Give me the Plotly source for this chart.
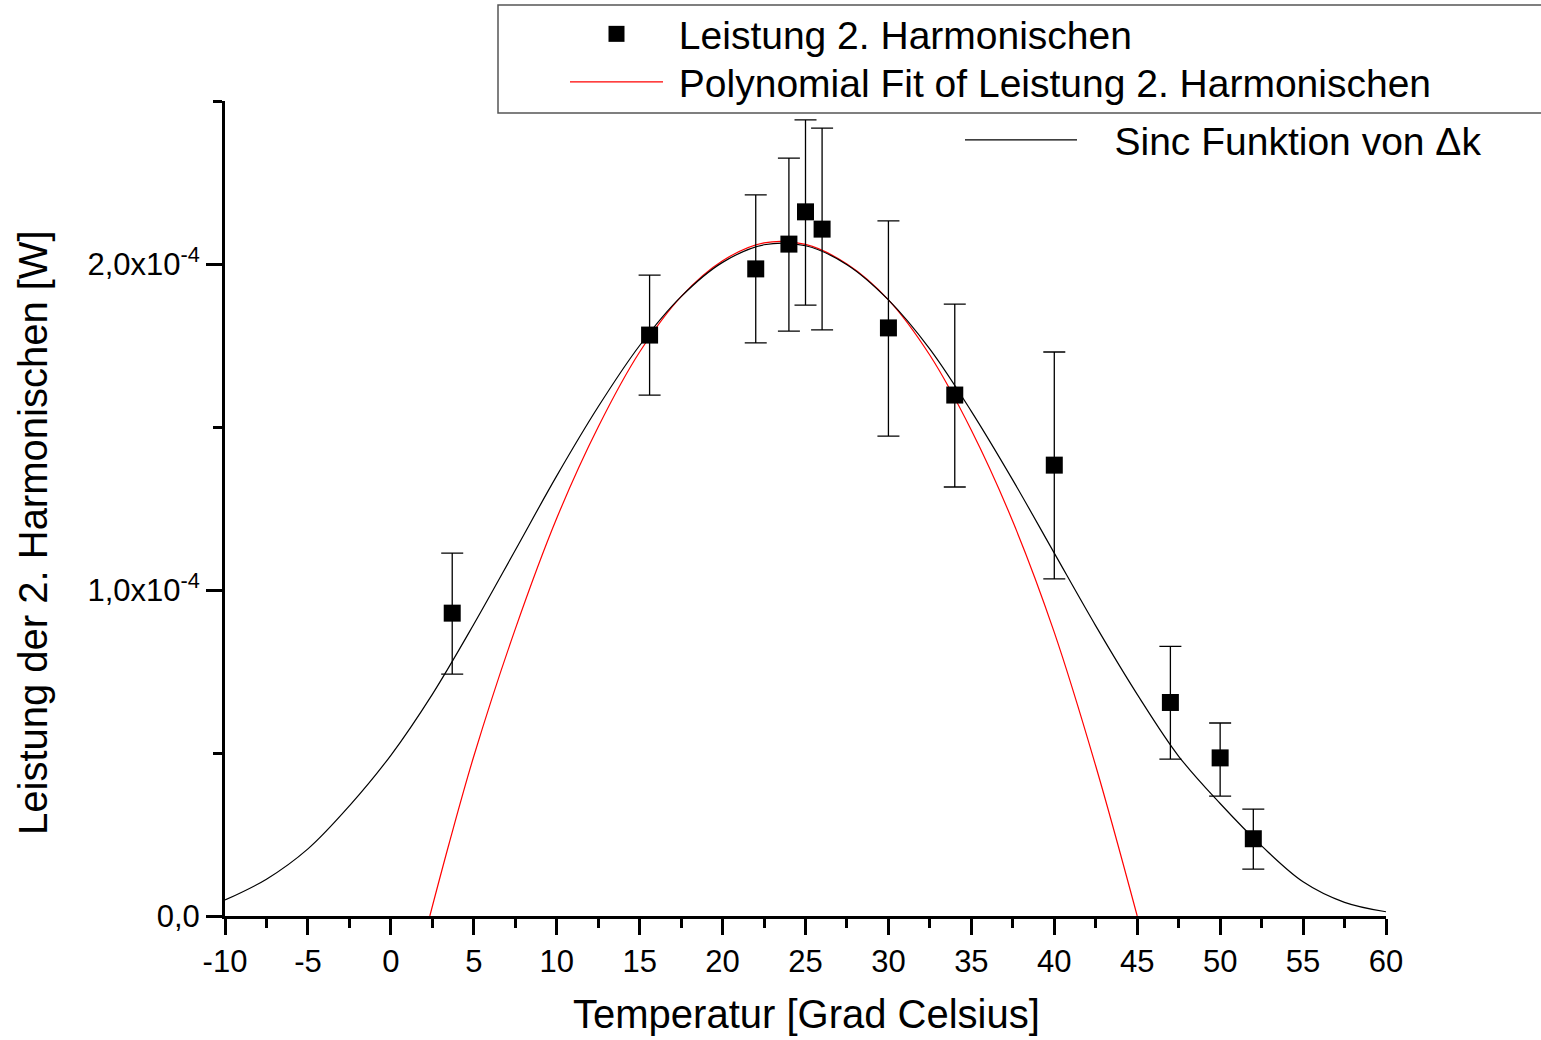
import plotly.graph_objects as go

# ---- data ----
temperature = [3.7, 15.6, 22, 24, 25, 26, 30, 34, 40, 47, 50, 52]
power = [0.929e-4, 1.782e-4, 1.985e-4, 2.061e-4, 2.160e-4, 2.107e-4,
         1.804e-4, 1.598e-4, 1.383e-4, 0.655e-4, 0.485e-4, 0.237e-4]
power_err_plus = [0.184e-4, 0.184e-4, 0.227e-4, 0.264e-4, 0.282e-4, 0.310e-4,
                  0.328e-4, 0.279e-4, 0.347e-4, 0.172e-4, 0.107e-4, 0.091e-4]
power_err_minus = [0.187e-4, 0.184e-4, 0.227e-4, 0.267e-4, 0.286e-4, 0.309e-4,
                   0.332e-4, 0.282e-4, 0.349e-4, 0.174e-4, 0.117e-4, 0.093e-4]

fit_temp = [2.35, 3.5, 5, 7.5, 10, 12.5, 15, 17.5, 20, 22.5, 25, 27.5, 30,
            32.5, 35, 37.5, 40, 42.5, 45]
fit_power = [0.0, 0.22e-4, 0.49e-4, 0.88e-4, 1.22e-4, 1.50e-4, 1.73e-4, 1.90e-4,
             2.01e-4, 2.065e-4, 2.06e-4, 2.00e-4, 1.89e-4, 1.72e-4, 1.49e-4,
             1.21e-4, 0.87e-4, 0.46e-4, 0.0]

sinc_temp = [-10, -7.5, -5, -2.5, 0, 2.5, 5, 7.5, 10, 12.5, 15, 17.5, 20, 22.5,
             25, 27.5, 30, 32.5, 35, 37.5, 40, 42.5, 45, 47.5, 50, 52.5, 55,
             57.5, 60]
sinc_power = [0.049e-4, 0.113e-4, 0.206e-4, 0.338e-4, 0.493e-4, 0.680e-4,
              0.895e-4, 1.122e-4, 1.350e-4, 1.562e-4, 1.750e-4, 1.900e-4,
              2.005e-4, 2.059e-4, 2.056e-4, 1.998e-4, 1.890e-4, 1.739e-4,
              1.548e-4, 1.337e-4, 1.113e-4, 0.890e-4, 0.680e-4, 0.490e-4,
              0.345e-4, 0.215e-4, 0.105e-4, 0.042e-4, 0.013e-4]

x_tickvals = [-10, -5, 0, 5, 10, 15, 20, 25, 30, 35, 40, 45, 50, 55, 60]
x_ticktext = ["-10", "-5", "0", "5", "10", "15", "20", "25", "30", "35",
              "40", "45", "50", "55", "60"]
y_tickvals = [0, 1e-4, 2e-4]
y_ticktext = ["0,0", "1,0x10<sup>-4</sup>", "2,0x10<sup>-4</sup>"]

FONT = "Liberation Sans, Arial, sans-serif"
LEG_FONT = dict(family=FONT, size=39, color="black")


def px_x(p):
    return (p - 225) / 1161


def px_y(p):
    return (916 - p) / 815


fig = go.Figure()

fig.add_trace(go.Scatter(
    x=fit_temp, y=fit_power, mode="lines",
    line=dict(color="#ff0000", width=1.2, shape="spline"),
    name="\u00a0Polynomial Fit of Leistung 2. Harmonischen",
    legend="legend3",
))
fig.add_trace(go.Scatter(
    x=sinc_temp, y=sinc_power, mode="lines",
    line=dict(color="black", width=1.2, shape="spline"),
    name="\u00a0\u00a0\u00a0Sinc Funktion von \u0394k",
    legend="legend2",
))
fig.add_trace(go.Scatter(
    x=temperature, y=power, mode="markers",
    marker=dict(symbol="square", size=17, color="black"),
    error_y=dict(type="data", symmetric=False, array=power_err_plus,
                 arrayminus=power_err_minus, color="black", thickness=1.3,
                 width=11),
    name="\u00a0Leistung 2. Harmonischen",
    legend="legend",
))

axis_common = dict(
    showgrid=False, zeroline=False, showline=True, linecolor="black",
    linewidth=3, ticks="outside", tickcolor="black", tickwidth=2.5,
    ticklen=16, tickfont=dict(family=FONT, size=31, color="black"),
    automargin=False,
)

fig.update_xaxes(
    range=[-10, 60], tickmode="array", tickvals=x_tickvals,
    ticktext=x_ticktext,
    minor=dict(dtick=2.5, tick0=0, ticks="outside", ticklen=9,
               tickwidth=2.5, tickcolor="black"),
    **axis_common,
)
fig.update_yaxes(
    range=[0, 2.5e-4], tickmode="array", tickvals=y_tickvals,
    ticktext=y_ticktext,
    minor=dict(dtick=0.5e-4, tick0=0, ticks="outside", ticklen=9,
               tickwidth=2.5, tickcolor="black"),
    **axis_common,
)

leg_common = dict(xanchor="left", yanchor="middle", xref="paper",
                  yref="paper", bgcolor="rgba(0,0,0,0)", borderwidth=0,
                  font=LEG_FONT)

fig.update_layout(
    width=1541, height=1040,
    margin=dict(l=225, r=155, t=101, b=124, autoexpand=False),
    paper_bgcolor="white", plot_bgcolor="white",
    font=dict(family=FONT, color="black"),
    showlegend=True,
    legend=dict(x=px_x(565), y=px_y(34), itemwidth=93, **leg_common),
    legend3=dict(x=px_x(565), y=px_y(82), itemwidth=93, **leg_common),
    legend2=dict(x=px_x(960), y=px_y(140), itemwidth=112, **leg_common),
    shapes=[dict(
        type="rect", xref="paper", yref="paper",
        x0=px_x(498), x1=px_x(1560), y0=px_y(113), y1=px_y(5),
        line=dict(color="#555555", width=1.5), fillcolor="rgba(0,0,0,0)",
        layer="above",
    )],
    annotations=[
        dict(text="Temperatur [Grad Celsius]", xref="paper", yref="paper",
             x=px_x(806), y=px_y(1014), showarrow=False,
             xanchor="center", yanchor="middle",
             font=dict(family=FONT, size=40, color="black")),
        dict(text="Leistung der 2. Harmonischen [W]", xref="paper",
             yref="paper", x=px_x(33), y=px_y(533),
             showarrow=False, textangle=-90, xanchor="center",
             yanchor="middle",
             font=dict(family=FONT, size=40, color="black")),
    ],
)

fig.write_html("out.html")
